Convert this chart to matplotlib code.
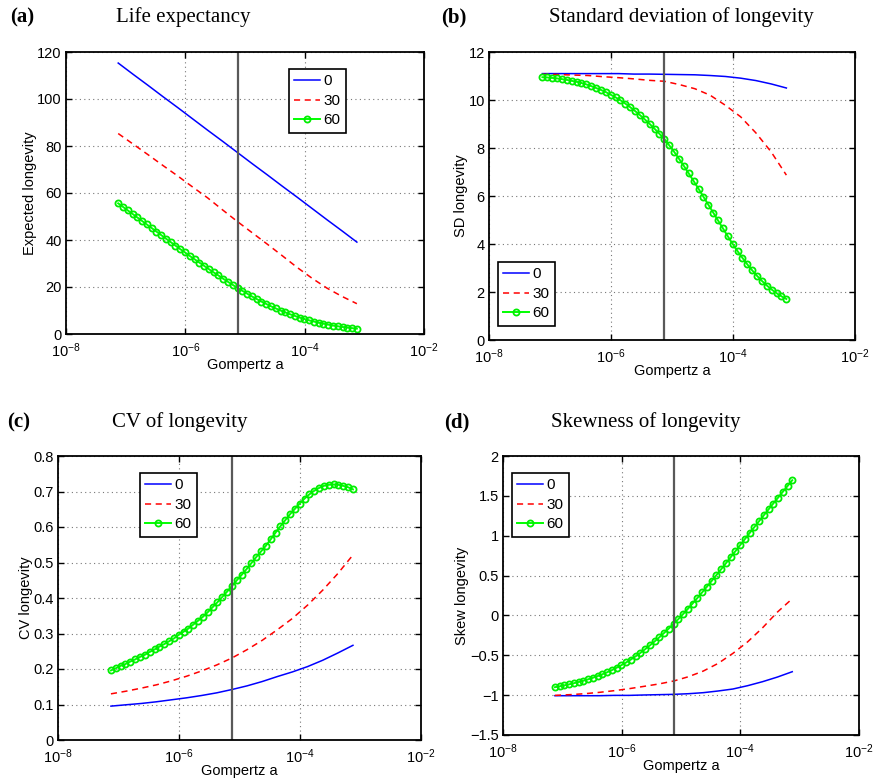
import numpy as np
import matplotlib
matplotlib.use('Agg')
import matplotlib.pyplot as plt

plt.rcParams['font.family'] = 'Liberation Sans'
plt.rcParams['mathtext.fontset'] = 'custom'
plt.rcParams['mathtext.rm'] = 'Liberation Sans'
plt.rcParams['mathtext.it'] = 'Liberation Sans:italic'
plt.rcParams['font.size'] = 10

# Gompertz a sampling: 17 points (quarter decades) for lines, 51 for marked curve
a_line = np.logspace(np.log10(7.5e-8), np.log10(7.5e-4), 17)
a_mark = np.logspace(np.log10(7.5e-8), np.log10(7.5e-4), 51)
a_ref = 7.5e-6
ages = ['0', '30', '60']

# (a) life expectancy
life_0 = [115.3, 110.5, 105.8, 101.0, 96.3, 91.5, 86.7, 82.0, 77.2, 72.4, 67.7,
          62.9, 58.2, 53.4, 48.6, 43.9, 39.1]
life_30 = [85.3, 80.8, 76.3, 71.7, 67.2, 62.5, 57.9, 52.8, 47.8, 43.0, 38.2,
           33.3, 28.3, 23.7, 19.5, 16.0, 12.9]
life_60 = [55.6, 54.1, 52.6, 51.1, 49.6, 48.1, 46.6, 45.1, 43.6, 42.1, 40.6,
           39.1, 37.6, 36.1, 34.7, 33.2, 31.8, 30.4, 29.0, 27.6, 26.2, 24.9,
           23.5, 22.2, 20.9, 19.6, 18.4, 17.2, 16.0, 14.9, 13.8, 12.8, 11.8,
           10.9, 10.0, 9.2, 8.4, 7.7, 7.0, 6.4, 5.8, 5.3, 4.8, 4.4, 4.0, 3.6,
           3.3, 3.0, 2.75, 2.5, 2.3]

# (b) standard deviation
sd_0 = [11.10, 11.10, 11.10, 11.10, 11.10, 11.10, 11.08, 11.08, 11.07, 11.06,
        11.05, 11.02, 10.98, 10.91, 10.81, 10.67, 10.50]
sd_30 = [11.07, 11.06, 11.04, 11.02, 10.97, 10.93, 10.88, 10.82, 10.78, 10.64,
         10.47, 10.20, 9.78, 9.30, 8.63, 7.84, 6.87]
sd_60 = [10.95, 10.94, 10.92, 10.90, 10.87, 10.84, 10.80, 10.76, 10.71, 10.65,
         10.58, 10.50, 10.42, 10.33, 10.22, 10.11, 9.99, 9.85, 9.70, 9.54,
         9.37, 9.19, 9.00, 8.80, 8.59, 8.37, 8.11, 7.84, 7.55, 7.25, 6.94,
         6.62, 6.30, 5.97, 5.64, 5.31, 4.98, 4.65, 4.32, 4.00, 3.70, 3.42,
         3.15, 2.90, 2.67, 2.46, 2.27, 2.10, 1.95, 1.82, 1.71]

# (c) coefficient of variation
cv_0 = [0.0954, 0.0992, 0.1029, 0.1076, 0.1132, 0.1188, 0.1254, 0.1329, 0.1422,
        0.1525, 0.1647, 0.1787, 0.1918, 0.2068, 0.2246, 0.2451, 0.2667]
cv_30 = [0.130, 0.1375, 0.146, 0.1553, 0.1666, 0.1796, 0.1946, 0.2115, 0.231,
         0.2545, 0.2807, 0.3106, 0.3425, 0.3799, 0.422, 0.4688, 0.5212]
cv_60 = [0.196, 0.202, 0.209, 0.214, 0.221, 0.227, 0.234, 0.240, 0.248, 0.255,
         0.263, 0.270, 0.278, 0.286, 0.296, 0.305, 0.314, 0.325, 0.336, 0.347,
         0.360, 0.374, 0.388, 0.403, 0.418, 0.434, 0.450, 0.465, 0.481, 0.498,
         0.515, 0.531, 0.547, 0.565, 0.584, 0.602, 0.619, 0.636, 0.651, 0.666,
         0.680, 0.692, 0.702, 0.710, 0.716, 0.719, 0.720, 0.719, 0.716, 0.712,
         0.706]

# (d) skewness
sk_0 = [-1.007, -1.007, -1.007, -1.007, -1.003, -1.003, -0.998, -0.994, -0.990,
        -0.982, -0.969, -0.948, -0.923, -0.881, -0.831, -0.773, -0.706]
sk_30 = [-1.003, -0.994, -0.982, -0.965, -0.944, -0.919, -0.890, -0.860, -0.823,
         -0.769, -0.698, -0.602, -0.476, -0.330, -0.155, 0.042, 0.21]
sk_60 = [-0.900, -0.889, -0.877, -0.864, -0.850, -0.835, -0.819, -0.801, -0.782,
         -0.761, -0.738, -0.713, -0.686, -0.656, -0.624, -0.590, -0.553, -0.513,
         -0.470, -0.424, -0.376, -0.326, -0.274, -0.220, -0.164, -0.106, -0.046,
         0.017, 0.082, 0.149, 0.218, 0.288, 0.359, 0.431, 0.504, 0.578, 0.653,
         0.728, 0.804, 0.880, 0.956, 1.032, 1.107, 1.182, 1.256, 1.330, 1.404,
         1.477, 1.550, 1.623, 1.696]

W, H = 874, 779
fig = plt.figure(figsize=(W / 100, H / 100), dpi=100)


def fx(x):
    return x / W


def fy(y):
    return 1 - y / H


def panel(box, letter, letter_x, title, title_x, title_y, ylab, ys, ylim, yticks,
          yticklabels, leg_xy):
    left, top, right, bottom = box
    ax = fig.add_axes([fx(left), fy(bottom), (right - left) / W, (bottom - top) / H])
    l0, = ax.plot(a_line, ys[0], color='#0000ff', lw=1.1)
    l1, = ax.plot(a_line, ys[1], color='#ff0000', lw=1.1, ls=(0, (4, 3)))
    l2, = ax.plot(a_mark, ys[2], color='#00ff00', lw=1.4, marker='o', ms=4.4,
                  mfc='none', mec='#00ee00', mew=1.3)
    ax.axvline(a_ref, color='#595959', lw=1.6)
    ax.set_xscale('log')
    ax.set_xlim(1e-8, 1e-2)
    ax.set_xticks([1e-8, 1e-6, 1e-4, 1e-2])
    ax.xaxis.set_minor_locator(matplotlib.ticker.NullLocator())
    ax.set_ylim(*ylim)
    ax.set_yticks(yticks)
    ax.set_yticklabels(yticklabels)
    ax.grid(True, color='#777777', ls=(0, (1, 3)), lw=0.8)
    ax.tick_params(direction='in', top=True, right=True, length=4, width=1,
                   labelsize=10.5)
    ax.tick_params(axis='x', pad=5)
    ax.tick_params(axis='y', pad=3)
    for s in ax.spines.values():
        s.set_linewidth(1.3)
    ax.set_xlabel('Gompertz a', fontsize=10.5, labelpad=-1)
    ax.set_ylabel(ylab, fontsize=10.5, labelpad=0.5)
    leg = fig.legend([l0, l1, l2], ages, loc='upper left',
                     bbox_to_anchor=(fx(leg_xy[0]), fy(leg_xy[1])),
                     fancybox=False, edgecolor='black', framealpha=1,
                     fontsize=11, handlelength=1.7, handletextpad=0.2,
                     borderpad=0.35, labelspacing=0.36, borderaxespad=0)
    leg.get_frame().set_linewidth(1.2)
    fig.text(fx(letter_x), fy(title_y), letter, fontsize=15, fontweight='bold',
             family='Liberation Serif', va='center', ha='left')
    fig.text(fx(title_x), fy(title_y), title, fontsize=15, family='Liberation Serif',
             va='center', ha='center')
    return ax


panel((66, 52, 424, 334), '(a)', 10, 'Life expectancy', 183, 17, 'Expected longevity',
      (life_0, life_30, life_60), (0, 120), range(0, 121, 20),
      [str(v) for v in range(0, 121, 20)], (289, 69))

panel((489, 52, 855, 340), '(b)', 441, 'Standard deviation of longevity', 681, 17,
      'SD longevity', (sd_0, sd_30, sd_60), (0, 12), range(0, 13, 2),
      [str(v) for v in range(0, 13, 2)], (498, 262))

cv_ticks = [0, 0.1, 0.2, 0.3, 0.4, 0.5, 0.6, 0.7, 0.8]
panel((58, 456, 421, 740), '(c)', 7, 'CV of longevity', 180, 422, 'CV longevity',
      (cv_0, cv_30, cv_60), (0, 0.8), cv_ticks,
      ['0'] + ['%.1f' % v for v in cv_ticks[1:]], (140, 473))

sk_ticks = [-1.5, -1, -0.5, 0, 0.5, 1, 1.5, 2]
panel((503, 456, 859, 735), '(d)', 444, 'Skewness of longevity', 646, 422,
      'Skew longevity', (sk_0, sk_30, sk_60), (-1.5, 2), sk_ticks,
      ['\u22121.5', '\u22121', '\u22120.5', '0', '0.5', '1', '1.5', '2'], (512, 473))

fig.savefig('out.png', dpi=100)
